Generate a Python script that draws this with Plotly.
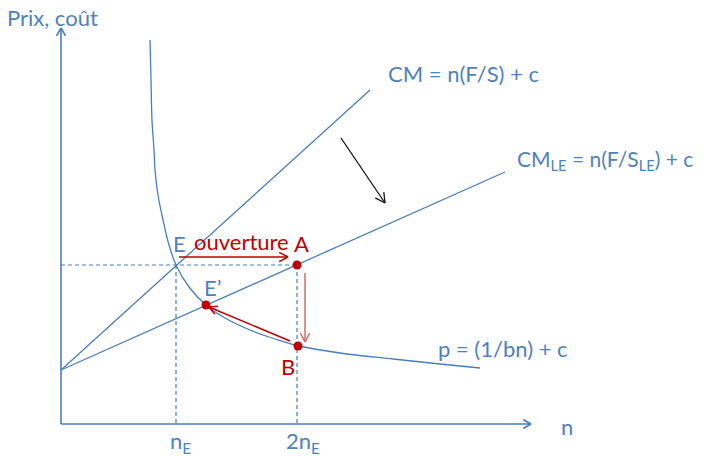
import numpy as np
import plotly.graph_objects as go

# ---- data (diagram units, origin at the axes corner) ----
cm_x = [0, 309]
cm_y = [54, 334]
cmle_x = [0, 444]
cmle_y = [54, 252]
curve_x = [89, 90, 91, 93, 94, 97, 102, 108, 115, 128, 145, 164, 189, 214, 238, 279, 332, 379, 419]
curve_y = [384, 344, 304, 274, 254, 229, 204, 179, 159, 137, 119, 106, 94, 85, 78, 71, 65, 60, 56]
n_E = 115
n_2E = 236
p_E = 159
pts_x = [236, 145, 237]   # A, E', B
pts_y = [159, 119, 78]
y_axis_top = 396
x_axis_end = 470

BLUE = "#4A7EBB"
TBLUE = "#4F81BD"
RED = "#C00000"
PINK = "#D26B6B"
FONT = "Lato"

fig = go.Figure()


def arrow(x0, y0, x1, y1, color, width=1.3, head=10, ang=28):
    d = np.array([x1 - x0, y1 - y0], float)
    d /= np.hypot(*d)
    a = np.radians(ang)
    xs, ys = [x0, x1, None], [y0, y1, None]
    for s in (a, -a):
        r = np.array([d[0] * np.cos(s) - d[1] * np.sin(s), d[0] * np.sin(s) + d[1] * np.cos(s)])
        xs += [x1, x1 - head * r[0], None]
        ys += [y1, y1 - head * r[1], None]
    fig.add_trace(go.Scatter(x=xs, y=ys, mode="lines", line=dict(color=color, width=width),
                             hoverinfo="skip", showlegend=False))


# axes
arrow(0, 0, 0, y_axis_top, BLUE, 1.6, 9, 30)
arrow(0, 0, x_axis_end, 0, BLUE, 1.6, 9, 30)

# dashed guides
dash = dict(color=BLUE, width=1.2, dash="4px,3px")
fig.add_trace(go.Scatter(x=[0, n_2E, None, n_E, n_E, None, n_2E, n_2E],
                         y=[p_E, p_E, None, p_E, 0, None, p_E, 0],
                         mode="lines", line=dash, hoverinfo="skip", showlegend=False))

# cost lines
fig.add_trace(go.Scatter(x=cm_x, y=cm_y, mode="lines", line=dict(color=BLUE, width=1.3), showlegend=False))
fig.add_trace(go.Scatter(x=cmle_x, y=cmle_y, mode="lines", line=dict(color=BLUE, width=1.3), showlegend=False))
# price curve
fig.add_trace(go.Scatter(x=curve_x, y=curve_y, mode="lines", line=dict(color=BLUE, width=1.3, shape="spline"),
                         showlegend=False))

# arrows
arrow(118, 167, 227, 167, RED, 1.5, 10, 28)
arrow(244, 151, 244, 82, PINK, 1.5, 10, 28)
arrow(229, 83, 148, 117, RED, 1.5, 9, 28)
arrow(280, 286, 324, 221, "#111111", 1.3, 11, 28)

# points
fig.add_trace(go.Scatter(x=pts_x, y=pts_y, mode="markers", marker=dict(color=RED, size=9),
                         showlegend=False))


def label(x, y, text, color=TBLUE, size=22, xanchor="center"):
    fig.add_annotation(x=x, y=y, text=text, showarrow=False, xanchor=xanchor, yanchor="middle",
                       font=dict(family=FONT, size=size, color=color))


label(-56, 407, "Prix, coût", xanchor="left")
label(325, 351, "CM = n(F/S) + c", xanchor="left")
label(454, 264, "CM<sub>LE</sub> = n(F/S<sub>LE</sub>) + c", xanchor="left", size=21)
label(375, 76, "p = (1/bn) + c", xanchor="left")
label(506, -2, "n")
label(n_E + 4, -18, "n<sub>E</sub>")
label(n_2E + 6, -18, "2n<sub>E</sub>")
label(118, 181, "E")
label(180, 183, "ouverture", RED)
label(240, 181, "A", RED)
label(151, 137, "E’")
label(227, 58, "B", RED)

fig.update_layout(
    width=704, height=456, margin=dict(l=0, r=0, t=0, b=0),
    paper_bgcolor="white", plot_bgcolor="white",
    xaxis=dict(range=[-61, 643], visible=False, fixedrange=True),
    yaxis=dict(range=[-32, 424], visible=False, fixedrange=True),
    showlegend=False,
)
# remove the default 8px page margin so the figure fills the window exactly
fig.write_html("out.html", config={"displayModeBar": False},
               post_script="document.body.style.margin='0';")
